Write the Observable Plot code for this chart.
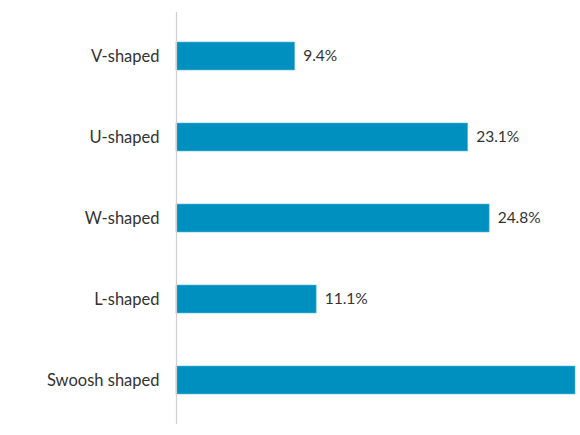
<!DOCTYPE html>
<html>
<head>
<meta charset="utf-8">
<script src="https://cdn.jsdelivr.net/npm/d3@7"></script>
<script src="https://cdn.jsdelivr.net/npm/@observablehq/plot@0.6"></script>
<style>
  html, body { margin: 0; padding: 0; background: #fff; }
  #chart svg { display: block; }
</style>
</head>
<body>
<div id="chart"></div>
<script>
const categories = ["V-shaped", "U-shaped", "W-shaped", "L-shaped", "Swoosh shaped"];
const values = [9.4, 23.1, 24.8, 11.1, 31.6];
// The reference shows value labels for every bar except the last one (its label runs off the edge).
const showLabel = [true, true, true, true, false];

const data = categories.map((c, i) => ({category: c, value: values[i], show: showLabel[i]}));

const chart = Plot.plot({
  width: 580,
  height: 435,
  marginTop: 12,
  marginBottom: 11,
  marginLeft: 176,
  marginRight: 5,
  style: {fontFamily: "Lato, 'Open Sans', sans-serif", fontSize: "15px", color: "#333", background: "#fff"},
  x: {domain: [0, 31.6], axis: null},
  y: {domain: categories, paddingInner: 0.66, paddingOuter: 0.35, label: null},
  marks: [
    Plot.axisY({tickSize: 0, tickPadding: 17, fontSize: 16.5, fill: "#333", label: null}),
    Plot.barX(data, {x: "value", y: "category", fill: "#0090bf", stroke: "#5fbbdc", strokeWidth: 0.6}),
    Plot.ruleX([0], {stroke: "#d0d0d0", strokeWidth: 1.2}),
    Plot.text(data.filter(d => d.show), {x: "value", y: "category", text: d => d.value.toFixed(1) + "%", textAnchor: "start", dx: 8, fill: "#333", fontSize: 15.5})
  ]
});
document.getElementById("chart").appendChild(chart);
</script>
</body>
</html>
